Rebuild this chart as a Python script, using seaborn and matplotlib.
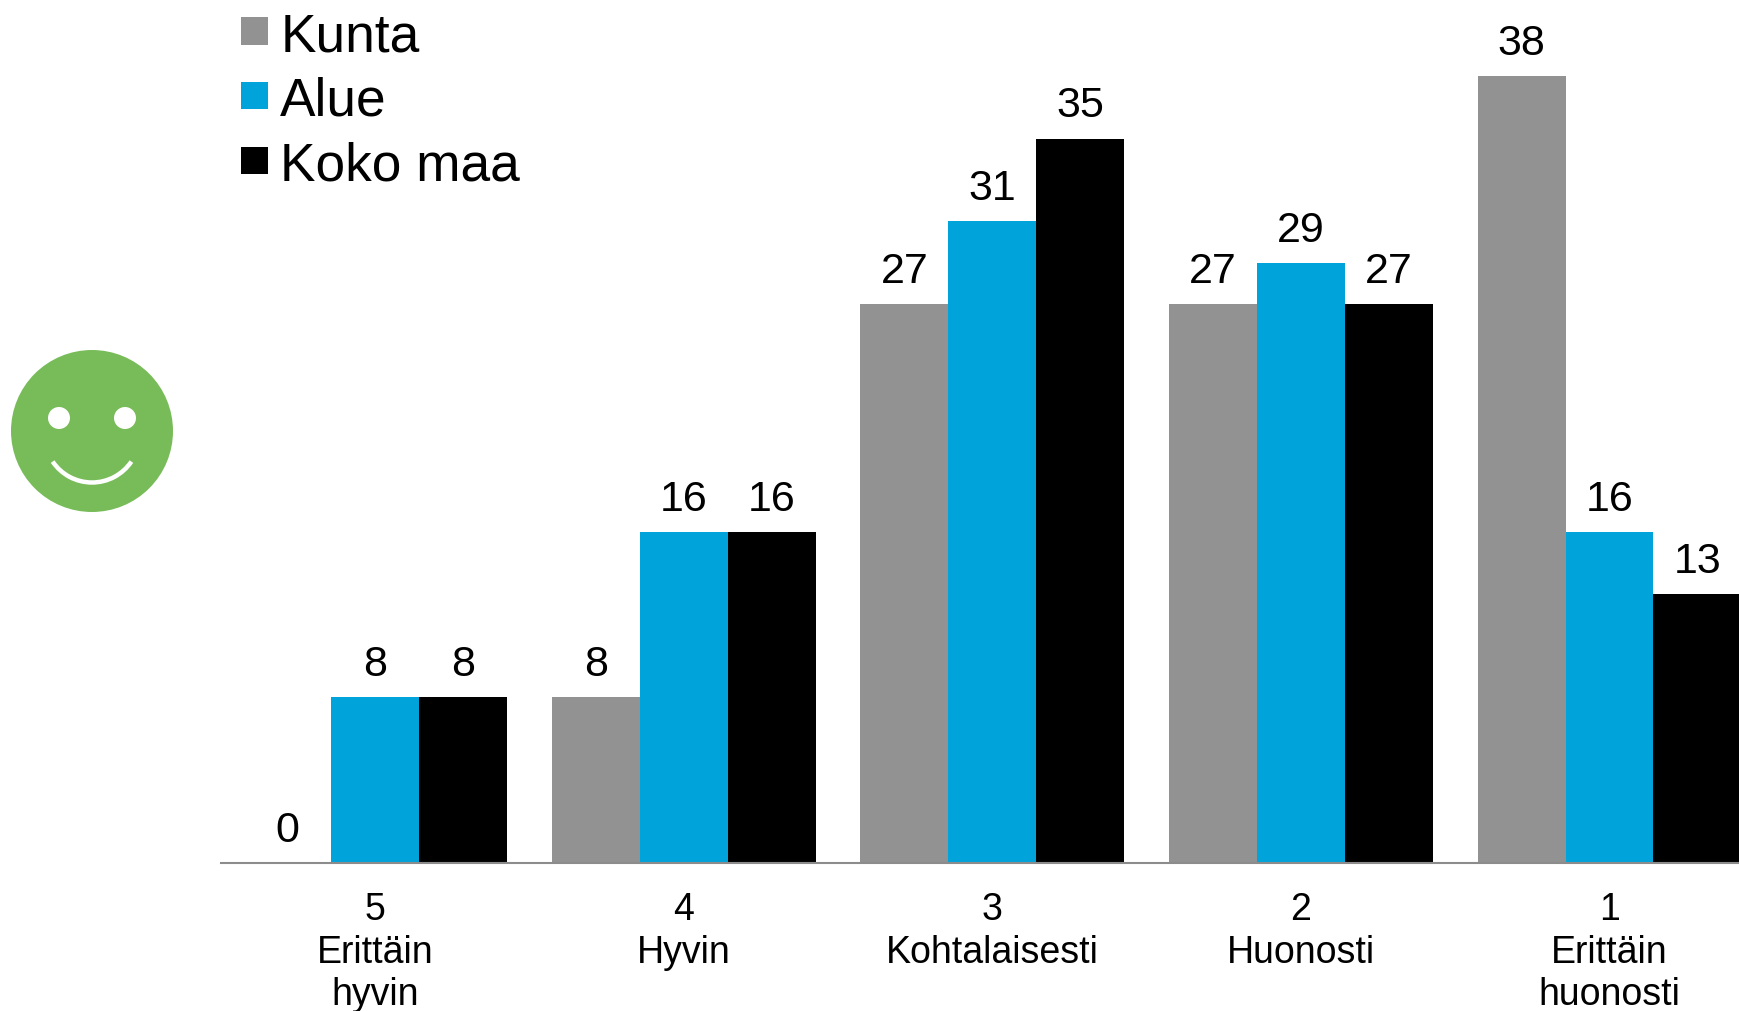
import pandas as pd
import matplotlib
matplotlib.use('Agg')
import matplotlib.pyplot as plt
from matplotlib.patches import Circle, Arc
import seaborn as sns

categories = ['5\nErittäin\nhyvin', '4\nHyvin', '3\nKohtalaisesti', '2\nHuonosti', '1\nErittäin\nhuonosti']
kunta = [0, 8, 27, 27, 38]
alue = [8, 16, 31, 29, 16]
koko_maa = [8, 16, 35, 27, 13]
colors = ['#929292', '#00A3DA', '#000000']

W, H = 1739, 1012
data = pd.DataFrame({'cat': categories, 'Kunta': kunta, 'Alue': alue, 'Koko maa': koko_maa})
data = pd.melt(data, id_vars=['cat'], value_vars=['Kunta', 'Alue', 'Koko maa'])

sns.set_style('white')
plt.rcParams['font.family'] = ['Liberation Sans', 'DejaVu Sans']

fig = plt.figure(figsize=(W / 100, H / 100), dpi=100)
# axes runs off the right edge on purpose, last group is cut in the original
ax = fig.add_axes([220.8 / W, (H - 864) / H, 1543 / W, 864 / H])
sns.barplot(data=data, x='cat', y='value', hue='variable', palette=colors, width=0.855, gap=0,
            saturation=1, ax=ax, linewidth=0)

ax.set_xlim(-0.5, 4.5)
ax.set_ylim(0, 864 / 20.7)
ax.set_xlabel('')
ax.set_ylabel('')
ax.set_yticks([])
ax.tick_params(axis='x', length=0, pad=20.4, labelsize=27, colors='black')
for t in ax.get_xticklabels():
    t.set_linespacing(1.23)
for s in ['top', 'left', 'right']:
    ax.spines[s].set_visible(False)
ax.spines['bottom'].set_color('#8c8c8c')
ax.spines['bottom'].set_linewidth(1.5)

for c in ax.containers:
    ax.bar_label(c, padding=9.5, fontsize=31, color='black')

ax.legend(loc='upper left', bbox_to_anchor=(241 / W, 1 - 12 / H), bbox_transform=fig.transFigure, frameon=False,
          fontsize=38.3, handlelength=0.5, handleheight=0.408, handletextpad=0.24, labelspacing=0.277,
          borderaxespad=0, borderpad=0, title=None, labelcolor='black')

# smiley, drawn in pixel coordinates on a full figure overlay
ov = fig.add_axes([0, 0, 1, 1])
ov.set_xlim(0, W)
ov.set_ylim(H, 0)
ov.axis('off')
ov.add_patch(Circle((92, 432), 81, color='#78BC59', lw=0))
ov.add_patch(Circle((59, 419), 11, color='white', lw=0))
ov.add_patch(Circle((125, 419), 11, color='white', lw=0))
ov.add_patch(Arc((92, 436), 95, 95, theta1=34, theta2=146, color='white', lw=3.2))

plt.savefig('out.png', dpi=100)
